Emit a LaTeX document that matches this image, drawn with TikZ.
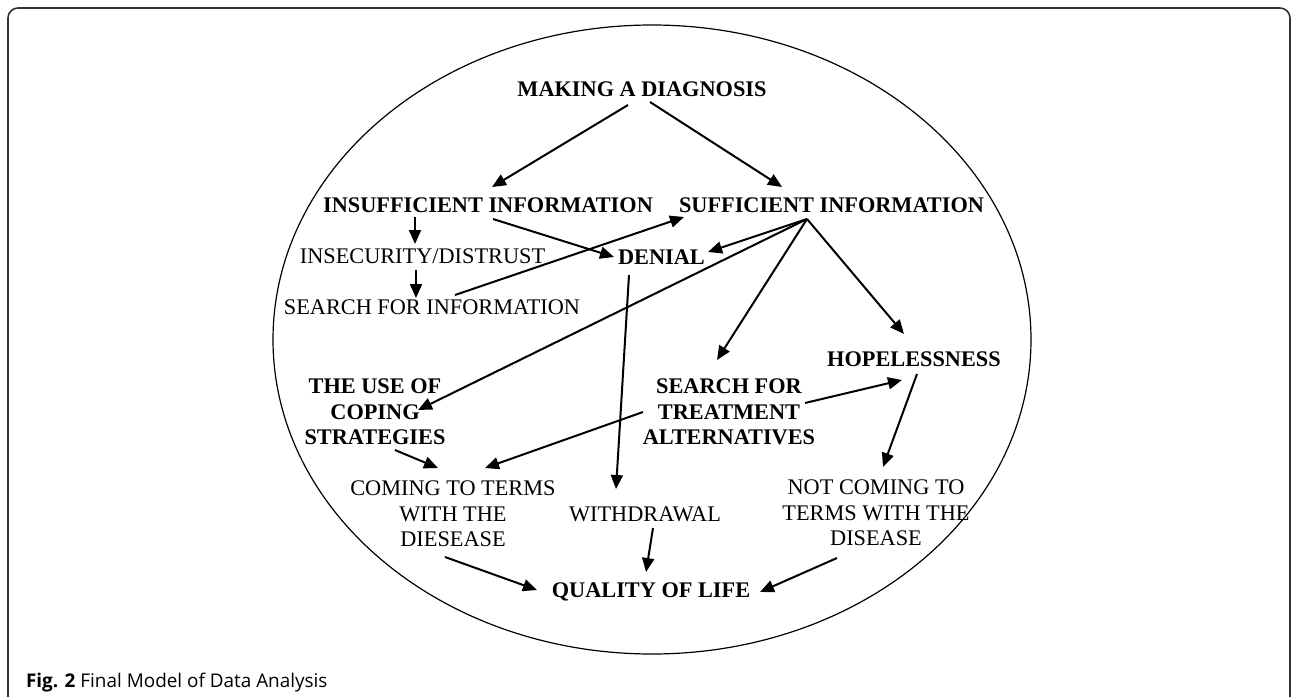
\documentclass[tikz,border=0pt]{standalone}
\usepackage{fontspec}
\setmainfont{Liberation Serif}
\setsansfont{Open Sans}
\usetikzlibrary{arrows.meta,calc}

\def\txtsize{\fontsize{11.15}{12.75}\selectfont}

\begin{document}
\begin{tikzpicture}[x=0.5pt,y=-0.5pt,line width=1pt]
    \tikzstyle{label}=[font=\txtsize,inner sep=0pt,align=center]
    \tikzstyle{theme}=[label,font=\txtsize\bfseries]
    \tikzstyle{link}=[-{Triangle[length=7pt,width=6pt]}]
    \useasboundingbox (0,0) rectangle (1292,697);

    % Frame and caption
    \draw[line width=0.8pt,black!80,rounded corners=5pt] (8,697) -- (8,8) -- (1290,8) -- (1290,697);
    \node[anchor=west,inner sep=0pt,font=\sffamily\fontsize{9.45}{11}\selectfont] (cap) at (25,683) {\textbf{Fig. 2} Final Model of Data Analysis};
    \draw[line width=0.6pt] (652,339.5) ellipse [x radius=379,y radius=314.5];

    % Themes
    \node[theme] (diag) at (642,89) {MAKING A DIAGNOSIS};
    \node[theme] (insuf) at (488,205) {INSUFFICIENT INFORMATION};
    \node[theme] (suff) at (831.5,205) {SUFFICIENT INFORMATION};
    \node[label] (insec) at (422.5,256) {INSECURITY/DISTRUST};
    \node[label] (search) at (432,307) {SEARCH FOR INFORMATION};
    \node[theme] (denial) at (661.5,257) {DENIAL};
    \node[theme] (coping) at (375,412) {THE USE OF\\COPING\\STRATEGIES};
    \node[theme] (treat) at (729,412) {SEARCH FOR\\TREATMENT\\ALTERNATIVES};
    \node[theme] (hope) at (914,359) {HOPELESSNESS};
    \node[label] (coming) at (453,514) {COMING TO TERMS\\WITH THE\\DIESEASE};
    \node[label] (withd) at (645,514) {WITHDRAWAL};
    \node[label] (notcoming) at (876,513) {NOT COMING TO\\TERMS WITH THE\\DISEASE};
    \node[theme] (qol) at (651,592) {QUALITY OF LIFE};

    % Links
    \draw[link] ($(diag)+(-14,16)$) -- ($(insuf)+(4,-18)$);
    \draw[link] ($(diag)+(8,13)$) -- ($(suff)+(-49.5,-18)$);
    \draw[link] ($(insuf)+(-73,12)$) -- ($(insec)+(-7.5,-12)$);
    \draw[link] ($(insec)+(-6.5,14)$) -- ($(search)+(-16,-9)$);
    \draw[link] ($(insuf)+(5,14)$) -- ($(denial)+(-47.5,0)$);
    \draw[link] ($(search)+(23,-12)$) -- ($(suff)+(-147.5,12)$);
    \draw[link] ($(suff)+(-24.5,14)$) -- ($(denial)+(46.5,-5)$);
    \draw[link] ($(suff)+(-24.5,14)$) -- ($(coping)+(43,-2)$);
    \draw[link] ($(suff)+(-24.5,14)$) -- ($(treat)+(-12,-52)$);
    \draw[link] ($(suff)+(-24.5,14)$) -- ($(hope)+(-10,-25)$);
    \draw[link] ($(denial)+(-32.5,18)$) -- ($(withd)+(-29,-25)$);
    \draw[link] ($(coping)+(20,38)$) -- ($(coming)+(-15,-46)$);
    \draw[link] ($(treat)+(-86,0)$) -- ($(coming)+(32,-46)$);
    \draw[link] ($(treat)+(76,-9)$) -- ($(hope)+(-12,21)$);
    \draw[link] ($(hope)+(3,15)$) -- ($(notcoming)+(7,-46)$);
    \draw[link] ($(coming)+(-8,43)$) -- ($(qol)+(-114,-2)$);
    \draw[link] ($(withd)+(8,14)$) -- ($(qol)+(-5,-20)$);
    \draw[link] ($(notcoming)+(-39,45)$) -- ($(qol)+(109,0)$);
\end{tikzpicture}
\end{document}
